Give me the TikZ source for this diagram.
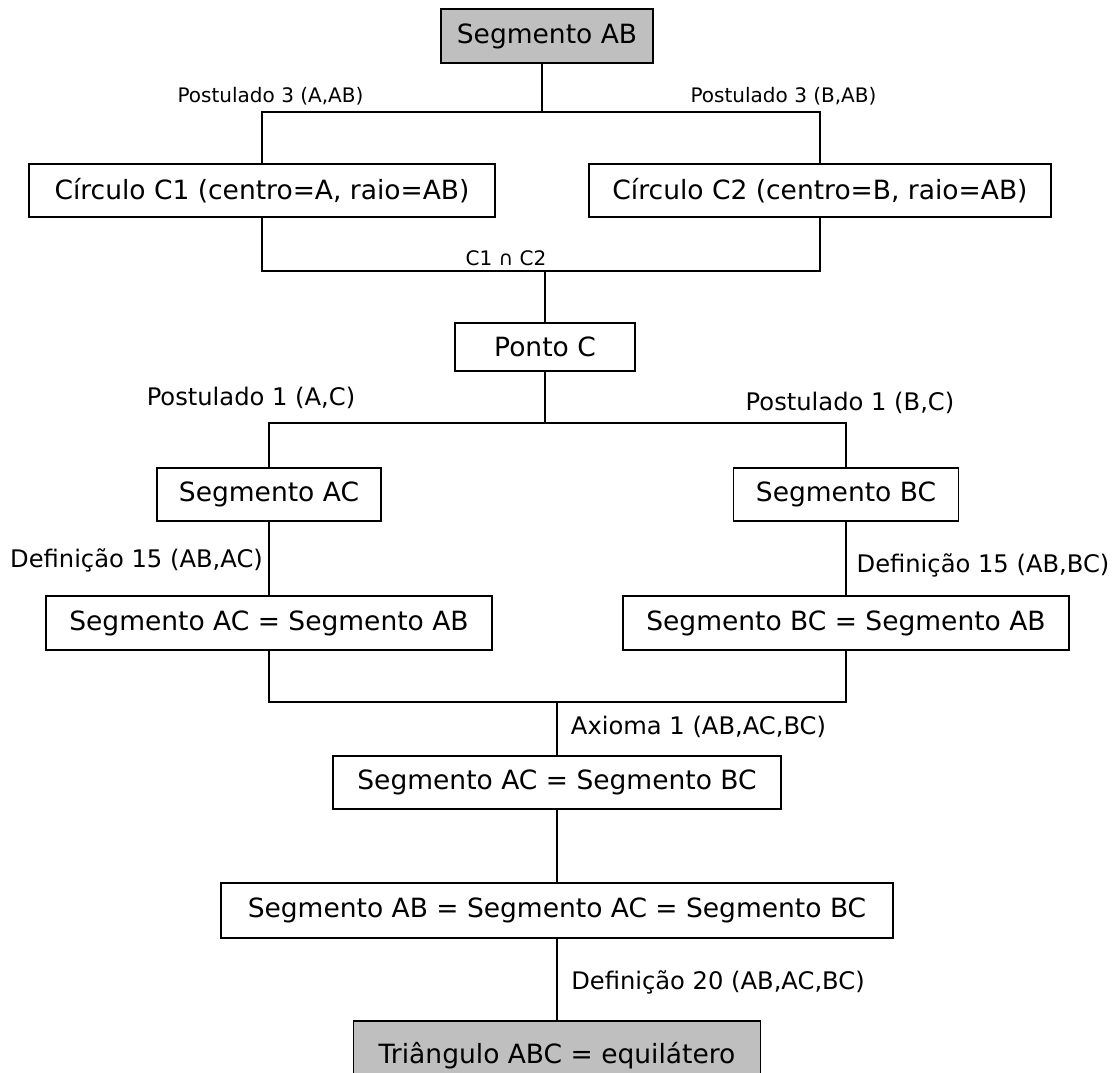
\documentclass[tikz,border=0pt]{standalone}
\usepackage{fontspec}
\setmainfont{DejaVu Sans}
\begin{document}
\begin{tikzpicture}[x=1pt,y=-1pt,
  box/.style={draw=black,line width=1.4pt,rectangle,inner sep=0pt,font=\fontsize{26.5}{30}\selectfont},
  gbox/.style={box,fill=black!25},
  lab/.style={inner sep=0pt,font=\fontsize{24.2}{28}\selectfont},
  slab/.style={inner sep=0pt,font=\fontsize{20}{24}\selectfont},
  conn/.style={line width=1.3pt},
  tconn/.style={line width=2.4pt}]
\useasboundingbox (0,0) rectangle (1117,1073);
% boxes
\node[gbox,minimum width=212,minimum height=54] (sab) at (547,36) {Segmento AB};
\node[box,minimum width=466,minimum height=53] (c1) at (262,190.5) {Círculo C1 (centro=A, raio=AB)};
\node[box,minimum width=462,minimum height=53] (c2) at (820,190.5) {Círculo C2 (centro=B, raio=AB)};
\node[box,minimum width=180,minimum height=48] (pc) at (545,347) {Ponto C};
\node[box,minimum width=224,minimum height=53] (sac) at (269,494.5) {Segmento AC};
\node[box,minimum width=225,minimum height=53] (sbc) at (846,494.5) {Segmento BC};
\node[box,minimum width=446,minimum height=54] (acab) at (269,623) {Segmento AC = Segmento AB};
\node[box,minimum width=446,minimum height=54] (bcab) at (846,623) {Segmento BC = Segmento AB};
\node[box,minimum width=448,minimum height=53] (acbc) at (557,782.5) {Segmento AC = Segmento BC};
\node[box,minimum width=672,minimum height=55] (all) at (557,910.5) {Segmento AB = Segmento AC = Segmento BC};
\node[gbox,minimum width=407,minimum height=70] (tri) at (557,1056) {Triângulo ABC = equilátero};
% junction coordinates
\coordinate (b1) at (542,112);
\coordinate (b2) at (545,271);
\coordinate (b3) at (545,423);
\coordinate (b4) at (557,702);
% connectors
\draw[tconn] (sab.south -| b1) -- (b1);
\draw[conn] (c1.north) -- (c1.north |- b1) -- (c2.north |- b1) -- (c2.north);
\draw[conn] (c1.south) -- (c1.south |- b2) -- (c2.south |- b2) -- (c2.south);
\draw[tconn] (b2) -- (pc.north);
\draw[tconn] (pc.south) -- (b3);
\draw[conn] (sac.north) -- (sac.north |- b3) -- (sbc.north |- b3) -- (sbc.north);
\draw[conn] (sac.south) -- (acab.north);
\draw[conn] (sbc.south) -- (bcab.north);
\draw[conn] (acab.south) -- (acab.south |- b4) -- (bcab.south |- b4) -- (bcab.south);
\draw[tconn] (b4) -- (acbc.north);
\draw[conn] (acbc.south) -- (all.north);
\draw[conn] (all.south) -- (tri.north);
% labels
\node[slab] (l1) at (270.5,96) {Postulado 3 (A,AB)};
\node[slab] (l2) at (783.5,96) {Postulado 3 (B,AB)};
\node[slab] (l3) at (506,258) {C1 ∩ C2};
\node[lab] (l4) at (251,398) {Postulado 1 (A,C)};
\node[lab] (l5) at (850,403) {Postulado 1 (B,C)};
\node[lab] (l6) at (136.5,560) {Definição 15 (AB,AC)};
\node[lab] (l7) at (983,565) {Definição 15 (AB,BC)};
\node[lab] (l8) at (698.5,727) {Axioma 1 (AB,AC,BC)};
\node[lab] (l9) at (718,982) {Definição 20 (AB,AC,BC)};
\end{tikzpicture}
\end{document}
